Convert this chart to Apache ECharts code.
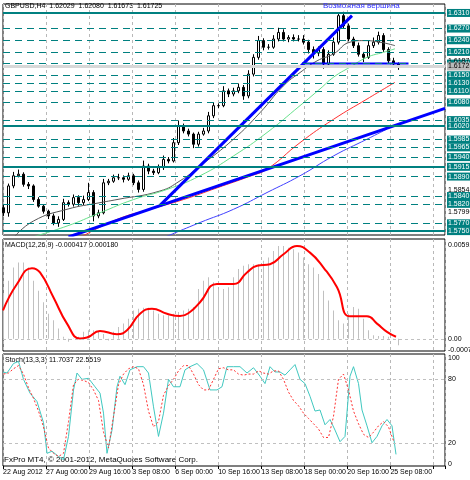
<!DOCTYPE html>
<html><head><meta charset="utf-8">
<script src="https://cdn.jsdelivr.net/npm/echarts@6/dist/echarts.min.js"></script>
<style>html,body{margin:0;background:#fff}#main{width:470px;height:480px}</style>
</head><body><div id="main"></div>
<script>
// prices in pips above 1.5700
var closes = [97,166,192,196,170,166,131,114,101,89, 71,80,123,119,136,123,131,149,89,97,
  174,178,187,187,183,192,174,157,217,204, 200,213,234,230,277,320,307,299,273,299,
  307,346,372,372,410,402,410,419,397,453, 496,539,522,522,543,560,543,547,543,543,
  535,516,507,516,479,504,535,603,577,543, 526,504,496,526,535,552,516,487,479,472]
var wickUp = [8,6,10,12,5,6,4,6,5,4, 6,8,10,6,8,6,10,25,6,8, 10,6,8,10,6,8,5,6,14,6,
  6,8,10,6,12,14,6,6,4,6, 8,10,8,6,12,6,8,10,6,10, 8,12,6,8,10,12,8,6,8,10,
  10,6,8,8,6,10,12,8,10,6, 6,8,6,14,12,10,6,6,8,4]
var wickDn = [8,10,6,4,6,8,6,4,6,8, 6,10,4,6,6,8,6,4,14,6, 4,6,4,6,8,4,6,8,6,8,
  6,4,6,6,4,6,6,6,10,6, 4,6,6,6,4,8,6,6,10,6, 6,6,8,6,4,6,6,8,6,6, 6,10,14,8,12,10,4,6,8,6,
  6,6,12,4,6,6,6,6,4,8]
var blackMA = [[2,33],[6,76],[12.7,106],[19.3,123],[22.7,131],[31.3,153],[35.3,179],[39.3,217],[46,286],[51.3,354],[56,423],[59.3,457],[62.7,487],[66,505],[69.3,535],[72,539],[75.3,535],[78.3,526]]
var greenMA = [[5.3,33],[12.7,63],[19.3,97],[26,131],[32.7,157],[39.3,192],[46,243],[52.7,303],[59.3,372],[63.3,415],[66,445],[69.3,471],[72.7,496],[76,509],[78.3,518]]
var redMA = [[15.3,33],[22.7,80],[29.3,106],[36,131],[42.7,161],[49.3,191],[52.7,209],[59.3,277],[66,337],[72.7,389],[78.3,432]]
var blueMA = [[32,33],[39.3,72],[46,106],[52.7,149],[59.3,192],[66,243],[72.7,286],[76.7,312]]
var trendA = [[13,35],[88.3,365]]
var trendB = [[31.3,116],[69.7,603]]
var neckline = [[59.7,480],[81,480]]
var dashedLevels = [1.6270,1.6240,1.6210,1.6180,1.6150,1.6130,1.6110,1.6080,1.6035,1.5985,1.5965,1.5940,1.5890,1.5840,1.5820,1.5770]
var solidLevels = [1.6310,1.6020,1.5915,1.5750]
var plainPriceLabels = [1.61875,1.58545,1.57990]
// MACD in units of 0.0001
var macdHist = [27.3,36.7,45,48.2,48.2,45,36.7,30.4,23.1,15.8, 11.7,6.5,1.3,-1.9,0.2,1.3,4.4,5.4,5.4,4.4,
  3.1,-1,4.4,7.5,9.6,12.7,17.9,19,19.6,19.6, 17.9,15.8,14.8,14.8,15.8,16.9,17.9,19,20,31.5,
  36.7,38.8,35.7,31.5,31.5,32.5,38.8,44,46.1,47.1, 47.1,47.1,49.2,51.3,55.5,58.6,58.6,57.5,56.5,54.4,
  51.3,47.1,45,40.9,30.4,24.2,17.9,11.7,9.6,15.8, 20,19,12.7,5.4,2.3,1.7,1.7,1.3,-0.8,-4]
var macdSignal = [[-0.1,17.9],[2.7,34.6],[5.7,44.6],[7.3,41.9],[10,26.1],[12.7,9.6],[15.3,0.2],[16.7,0.8],[19.3,5],[22.7,2.9],[24.7,5.4],[27.3,15.8],[29.7,19],[32.7,15.8],[35.3,14.4],[37.3,16.9],[39.3,23.1],[42.7,34.6],[46,34.6],[48.7,41.9],[50.7,46.1],[53.3,47.1],[56,53.4],[58.7,58.6],[61.3,54.4],[64,45],[66.7,32.5],[69.3,14.2],[72.7,14.2],[74.7,9.6],[76.7,4.4],[78.5,1.3]]
var stochMain = [[-0.1,87],[0.7,86],[2,95],[3,97],[4,80],[5.3,67],[6.7,59],[8,39],[8.7,10],[9.7,12],[11,7],[12,4],[13,26],[14,70],[14.7,86],[15.7,80],[17,81],[18.3,73],[19.3,67],[20,48],[20.7,10],[21.7,32],[22.7,73],[23.3,83],[24.3,75],[25.3,89],[26.7,92],[28,92],[29,86],[30,54],[31,26],[31.3,25],[32,48],[33,80],[34,73],[35.3,73],[36.3,89],[37.3,92],[38.7,95],[40,89],[41.3,70],[42.7,70],[43.7,73],[44.7,92],[46,92],[47.3,92],[48.7,86],[50,91],[51.3,83],[52.3,76],[53.3,92],[54.3,87],[55.3,87],[56.3,84],[57.3,89],[58.3,94],[59.3,80],[60.3,76],[61.3,64],[62.3,50],[63.3,51],[64.3,37],[65.3,42],[66.3,32],[67.3,21],[68.3,26],[69.3,83],[70,92],[71,76],[71.7,51],[72.7,36],[73.7,20],[74.7,26],[75.7,36],[76.7,42],[77.7,36],[78.5,9]]
var stochSignal = [85,86,90,93,85,72,62,50,35,15, 10,7,10,40,75,80,79,77,70,60, 30,15,45,75,85,90,92,90,75,50,
  35,40,65,74,80,88,93,93,85,75, 70,70,80,90,91,89,89,85,84,85, 85,88,86,85,88,88,80,68,60,55,
  48,43,38,33,25,25,45,80,85,70, 50,38,28,25,30,36,40,35,22]
var dateLabels = ['22 Aug 2012','27 Aug 00:00','29 Aug 16:00','3 Sep 08:00','6 Sep 00:00','10 Sep 16:00','13 Sep 08:00','18 Sep 00:00','20 Sep 16:00','25 Sep 08:00']

var FONT = 'Liberation Sans'
var TEAL = '#008080'
var HIDE = { color: 'rgba(0,0,0,0)', width: 0 }
var candles = closes.map(function (c, i) {
  var o = i === 0 ? 110 : closes[i - 1]
  return [i, o, c, Math.min(o, c) - wickDn[i], Math.max(o, c) + wickUp[i]]
})
function pip(v) { return Math.round((v - 1.57) * 10000 * 10) / 10 }
var levelLines = []
dashedLevels.forEach(function (v) {
  levelLines.push({ yAxis: pip(v), lineStyle: { color: TEAL, type: [7, 5], width: 1 },
    label: { formatter: v.toFixed(4), backgroundColor: TEAL, color: '#fff' } })
})
solidLevels.forEach(function (v) {
  levelLines.push({ yAxis: pip(v), lineStyle: { color: TEAL, type: 'solid', width: 2 },
    label: { formatter: v.toFixed(4), backgroundColor: TEAL, color: '#fff' } })
})
plainPriceLabels.forEach(function (v) {
  levelLines.push({ yAxis: pip(v), lineStyle: HIDE, label: { formatter: v.toFixed(5), color: '#000' } })
})
levelLines.push({ yAxis: pip(1.61725), lineStyle: { color: '#d8d8d8', width: 3, type: 'solid' },
  label: { formatter: '1.61725', backgroundColor: '#bbb', color: '#000' } })

var grids = [
  { left: 3, right: 25, top: 4, height: 231 },
  { left: 3, right: 25, top: 239, height: 112 },
  { left: 3, right: 25, top: 354, height: 112 }
]
var xAxes = [], yAxes = []
grids.forEach(function (g, k) {
  grids[k].show = true; grids[k].borderColor = '#000'; grids[k].borderWidth = 1
  xAxes.push({ type: 'value', gridIndex: k, min: -0.1, max: 88.3, show: false })
  xAxes.push({ type: 'value', gridIndex: k, min: 0, max: 164.3, interval: 16, position: 'bottom',
    axisLine: { show: false },
    axisTick: { show: k === 2, length: 3, lineStyle: { color: '#000' } },
    splitLine: { show: true, lineStyle: { color: '#b8b8b8', type: [3, 3] } },
    axisLabel: { show: k === 2, showMinLabel: true, hideOverlap: false, align: 'left', margin: 3, fontSize: 7,
      fontFamily: FONT, color: '#000',
      formatter: function (v) { return dateLabels[Math.round(v / 16)] || '' } } })
})
yAxes.push({ type: 'value', gridIndex: 0, min: 40, max: 633, show: false })
yAxes.push({ type: 'value', gridIndex: 1, min: -7.7, max: 63, show: false })
yAxes.push({ type: 'value', gridIndex: 2, min: -2, max: 104, show: false })

function line(name, data, color, width, xi, yi, extra) {
  var s = { name: name, type: 'line', data: data, xAxisIndex: xi, yAxisIndex: yi, symbol: 'none',
    clip: true, lineStyle: { color: color, width: width }, silent: true }
  for (var k in extra) s[k] = extra[k]
  return s
}
var lbl = { position: 'end', distance: 2, fontSize: 7, fontFamily: FONT, padding: [1, 1, 0, 1] }

var chart = echarts.init(document.getElementById('main'))
chart.setOption({
  animation: false,
  backgroundColor: '#fff',
  grid: grids,
  xAxis: xAxes,
  yAxis: yAxes,
  series: [
    { type: 'candlestick', data: candles, xAxisIndex: 0, yAxisIndex: 0, encode: { x: 0, y: [1, 2, 3, 4] },
      barWidth: 3, silent: true,
      itemStyle: { color: '#fff', color0: '#000', borderColor: '#000', borderColor0: '#000', borderWidth: 1 },
      markLine: { symbol: 'none', silent: true, label: lbl, data: levelLines } },
    line('ma1', blackMA, '#555', 1, 0, 0, { smooth: true }),
    line('ma2', greenMA, '#66e08a', 1, 0, 0, { smooth: true }),
    line('ma3', redMA, '#ff3030', 1, 0, 0, { smooth: true }),
    line('ma4', blueMA, '#4040ff', 1, 0, 0, { smooth: true }),
    line('t1', trendA, '#0000ff', 3, 0, 0),
    line('t2', trendB, '#0000ff', 3, 0, 0),
    line('t3', neckline, '#0000ff', 2, 0, 0),
    { type: 'bar', data: macdHist.map(function (v, i) { return [i, v] }), xAxisIndex: 2, yAxisIndex: 1,
      barWidth: 1, silent: true, itemStyle: { color: '#c0c0c0' },
      markLine: { symbol: 'none', silent: true, label: lbl, data: [
        { yAxis: 59.2, lineStyle: HIDE, label: { formatter: '0.00592', color: '#000' } },
        { yAxis: 0, lineStyle: { color: '#c0c0c0', type: [3, 3], width: 1 }, label: { formatter: '0.00', color: '#000' } },
        { yAxis: -7.1, lineStyle: HIDE, label: { formatter: '-0.00071', color: '#000' } }
      ] } },
    line('signal', macdSignal, '#ff0000', 2, 2, 1, { smooth: true }),
    line('stoch', stochMain, '#40c8c0', 1, 4, 2, {
      markLine: { symbol: 'none', silent: true, label: lbl, data: [
        { yAxis: 100, lineStyle: HIDE, label: { formatter: '100', color: '#000' } },
        { yAxis: 80, lineStyle: { color: '#c0c0c0', type: [3, 3], width: 1 }, label: { formatter: '80', color: '#000' } },
        { yAxis: 20, lineStyle: { color: '#c0c0c0', type: [3, 3], width: 1 }, label: { formatter: '20', color: '#000' } },
        { yAxis: 0, lineStyle: HIDE, label: { formatter: '0', color: '#000' } }
      ] } }),
    line('stochSig', stochSignal.map(function (v, i) { return [i, v] }), '#ff3030', 1, 4, 2,
      { lineStyle: { color: '#ff3030', width: 1, type: [2, 2] } })
  ],
  graphic: [
    { type: 'text', left: 5, top: 3, style: { text: 'GBPUSD,H4  1.62029  1.62080  1.61673  1.61725', fontSize: 7, fontFamily: FONT, fill: '#000' } },
    { type: 'text', left: 323, top: 2, style: { text: 'Возможная вершина', fontSize: 8, fontFamily: FONT, fill: '#3333ff' } },
    { type: 'text', left: 5, top: 242, style: { text: 'MACD(12,26,9) -0.000417 0.000180', fontSize: 7, fontFamily: FONT, fill: '#000' } },
    { type: 'text', left: 5, top: 357, style: { text: 'Stoch(13,3,3) 11.7037 22.5519', fontSize: 7, fontFamily: FONT, fill: '#000' } },
    { type: 'text', left: 4, top: 456, style: { text: 'FxPro MT4, © 2001-2012, MetaQuotes Software Corp.', fontSize: 8, fontFamily: FONT, fill: '#000' } }
  ]
})
</script>
</body></html>
